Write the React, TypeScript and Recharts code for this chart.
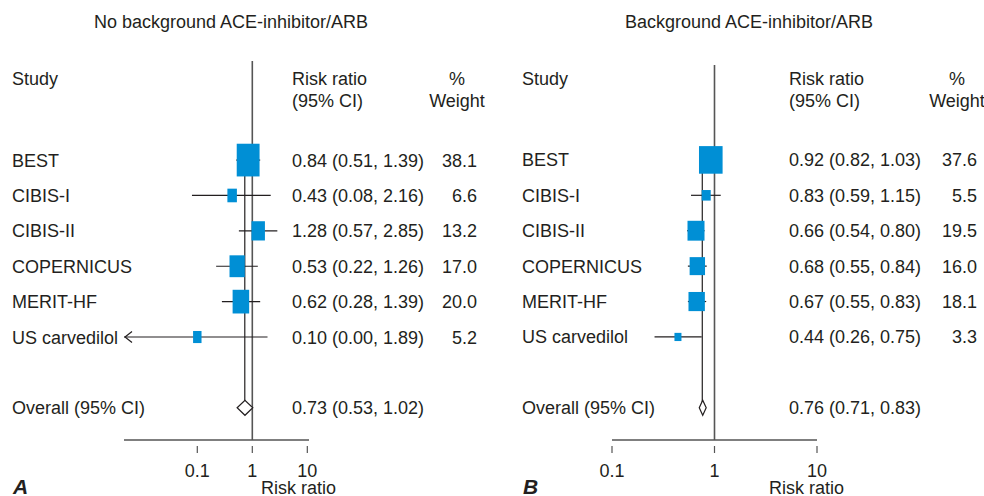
import React from "react";
import { ScatterChart, XAxis, YAxis, ReferenceLine, ReferenceDot } from "recharts";

const studies = ["BEST", "CIBIS-I", "CIBIS-II", "COPERNICUS", "MERIT-HF", "US carvedilol"];
const rowIndex = [0, 1, 2, 3, 4, 5];
const overallRow = 7;
const headerRow = -2.3;
const xTicks = [0.1, 1, 10];

// panel A: no background ACE-inhibitor/ARB
const noAceRR = [0.84, 0.43, 1.28, 0.53, 0.62, 0.1];
const noAceLow = [0.51, 0.08, 0.57, 0.22, 0.28, 0.0];
const noAceHigh = [1.39, 2.16, 2.85, 1.26, 1.39, 1.89];
const noAceWeight = [38.1, 6.6, 13.2, 17.0, 20.0, 5.2];
const noAceOverall = [0.73, 0.53, 1.02];

// panel B: background ACE-inhibitor/ARB
const aceRR = [0.92, 0.83, 0.66, 0.68, 0.67, 0.44];
const aceLow = [0.82, 0.59, 0.54, 0.55, 0.55, 0.26];
const aceHigh = [1.03, 1.15, 0.8, 0.84, 0.83, 0.75];
const aceWeight = [37.6, 5.5, 19.5, 16.0, 18.1, 3.3];
const aceOverall = [0.76, 0.71, 0.83];

const FONT = "'Liberation Sans', Arial, Helvetica, sans-serif";
const INK = "#231f20";
const BOX = "#008fd5";
const RULE = "#555";

const txt = { fontFamily: FONT, fontSize: 18, fill: INK };

const fmt = (e: number, l: number, h: number) =>
  `${e.toFixed(2)} (${l.toFixed(2)}, ${h.toFixed(2)})`;

type Cfg = {
  width: number;
  left: number;
  right: number;
  top: number;
  xDomain: [number, number];
  yTop: number;
  kW: number;
  kH: number;
  rrX: number;
  pctX: number;
  weightX: number;
  titleX: number;
  title: string;
  letter: string;
  axisTitleX: number;
};

const cfgA: Cfg = {
  width: 510,
  left: 124,
  right: 201,
  top: 61,
  xDomain: [0.00465, 10.73],
  yTop: -2.8,
  kW: 3.7,
  kH: 5.3,
  rrX: 292,
  pctX: 457,
  weightX: 477,
  titleX: 231,
  title: "No background ACE-inhibitor/ARB",
  letter: "A",
  axisTitleX: 261,
};

const cfgB: Cfg = {
  width: 474,
  left: 102,
  right: 167,
  top: 65,
  xDomain: [0.1, 10],
  yTop: -2.68,
  kW: 3.85,
  kH: 4.5,
  rrX: 279,
  pctX: 447,
  weightX: 467,
  titleX: 239,
  title: "Background ACE-inhibitor/ARB",
  letter: "B",
  axisTitleX: 259,
};

function Panel({ cfg, rr, low, high, weight, overall }: any) {
  const rows = studies.map((study, i) => ({
    study,
    row: rowIndex[i],
    rr: rr[i],
    low: low[i],
    high: high[i],
    weight: weight[i],
  }));
  const xMin = cfg.xDomain[0];
  const yTicks = [headerRow, ...rowIndex, overallRow];
  const yDomain = [cfg.yTop, 7.91];

  const studyTick = ({ y, payload }: any) => {
    const v = payload.value;
    const label = v === headerRow ? "Study" : v === overallRow ? "Overall (95% CI)" : studies[v];
    return (
      <text x={12} y={y} dy={6.5} {...txt}>
        {label}
      </text>
    );
  };

  const statTick = ({ y, payload }: any) => {
    const v = payload.value;
    if (v === headerRow) {
      return (
        <g>
          <text x={cfg.rrX} y={y} dy={6.5} {...txt}>Risk ratio</text>
          <text x={cfg.rrX} y={y + 22} dy={6.5} {...txt}>(95% CI)</text>
          <text x={cfg.pctX} y={y} dy={6.5} textAnchor="middle" {...txt}>%</text>
          <text x={cfg.pctX} y={y + 22} dy={6.5} textAnchor="middle" {...txt}>Weight</text>
        </g>
      );
    }
    if (v === overallRow) {
      return (
        <text x={cfg.rrX} y={y} dy={6.5} {...txt}>
          {fmt(overall[0], overall[1], overall[2])}
        </text>
      );
    }
    const r = rows[v];
    return (
      <g>
        <text x={cfg.rrX} y={y} dy={6.5} {...txt}>{fmt(r.rr, r.low, r.high)}</text>
        <text x={cfg.weightX} y={y} dy={6.5} textAnchor="end" {...txt}>{r.weight.toFixed(1)}</text>
      </g>
    );
  };

  const xTick = ({ x, y, payload }: any) => (
    <g>
      <line x1={x} x2={x} y1={y + 6} y2={y + 13} stroke={RULE} strokeWidth={1.2} />
      <text x={x} y={y + 37} textAnchor="middle" {...txt}>{payload.value}</text>
    </g>
  );

  const ciShape = (clipped: boolean) => (p: any) => (
    <g>
      <line x1={p.x1} y1={p.y1} x2={p.x2} y2={p.y2} stroke={INK} strokeWidth={1.2} />
      {clipped && (
        <polyline
          points={`${p.x1 + 8},${p.y1 - 5.5} ${p.x1 + 1},${p.y1} ${p.x1 + 8},${p.y1 + 5.5}`}
          fill="none"
          stroke={INK}
          strokeWidth={1.2}
        />
      )}
    </g>
  );

  const diamond = (p: any) => {
    const mid = (p.x1 + p.x2) / 2;
    return (
      <polygon
        points={`${p.x1},${p.y1} ${mid},${p.y1 - 7.5} ${p.x2},${p.y1} ${mid},${p.y1 + 7.5}`}
        fill="#fff"
        stroke={INK}
        strokeWidth={1.2}
      />
    );
  };

  // box area follows the study weight
  const box = (wt: number) => (p: any) => {
    const s = Math.sqrt(wt);
    const w = cfg.kW * s;
    const h = cfg.kH * s;
    return <rect x={p.cx - w / 2} y={p.cy - h / 2} width={w} height={h} fill={BOX} />;
  };

  return (
    <ScatterChart
      width={cfg.width}
      height={496}
      margin={{ top: cfg.top, right: 0, bottom: 0, left: 0 }}
    >
      <XAxis
        type="number"
        dataKey="rr"
        scale="log"
        domain={cfg.xDomain}
        allowDataOverflow
        ticks={xTicks}
        height={56}
        tickSize={0}
        tickMargin={0}
        tickLine={false}
        tick={xTick}
        axisLine={{ stroke: RULE, strokeWidth: 1.6 }}
      />
      <YAxis
        yAxisId="names"
        type="number"
        dataKey="row"
        reversed
        domain={yDomain}
        allowDataOverflow
        ticks={yTicks}
        width={cfg.left}
        tickSize={0}
        tickLine={false}
        axisLine={false}
        tick={studyTick}
      />
      <YAxis
        yAxisId="stats"
        orientation="right"
        type="number"
        dataKey="row"
        reversed
        domain={yDomain}
        allowDataOverflow
        ticks={yTicks}
        width={cfg.right}
        tickSize={0}
        tickLine={false}
        axisLine={false}
        tick={statTick}
      />
      <ReferenceLine yAxisId="names" x={1} stroke={RULE} strokeWidth={1.6} zIndex={100} />
      <ReferenceLine
        yAxisId="names"
        segment={[
          { x: overall[0], y: 0 },
          { x: overall[0], y: overallRow },
        ]}
        stroke={INK}
        strokeWidth={1.2}
        ifOverflow="visible"
        zIndex={100}
      />
      {rows.map((r) => (
        <ReferenceLine
          key={"ci-" + r.study}
          yAxisId="names"
          segment={[
            { x: Math.max(r.low, xMin), y: r.row },
            { x: r.high, y: r.row },
          ]}
          ifOverflow="visible"
          shape={ciShape(r.low < xMin)}
          zIndex={100}
        />
      ))}
      <ReferenceLine
        yAxisId="names"
        segment={[
          { x: overall[1], y: overallRow },
          { x: overall[2], y: overallRow },
        ]}
        ifOverflow="visible"
        shape={diamond}
        zIndex={200}
      />
      {rows.map((r) => (
        <ReferenceDot
          key={"box-" + r.study}
          yAxisId="names"
          x={r.rr}
          y={r.row}
          ifOverflow="visible"
          shape={box(r.weight)}
          zIndex={300}
        />
      ))}
      <text x={cfg.titleX} y={28} textAnchor="middle" {...txt}>{cfg.title}</text>
      <text x={13} y={494} fontFamily={FONT} fontSize={21} fontWeight="bold" fontStyle="italic" fill={INK}>
        {cfg.letter}
      </text>
      <text x={cfg.axisTitleX} y={494} {...txt}>Risk ratio</text>
    </ScatterChart>
  );
}

export default function App() {
  return (
    <div style={{ position: "relative", width: 984, height: 496, background: "#fff", display: "flex" }}>
      <style>{"body{margin:0}"}</style>
      <Panel cfg={cfgA} rr={noAceRR} low={noAceLow} high={noAceHigh} weight={noAceWeight} overall={noAceOverall} />
      <Panel cfg={cfgB} rr={aceRR} low={aceLow} high={aceHigh} weight={aceWeight} overall={aceOverall} />
    </div>
  );
}
